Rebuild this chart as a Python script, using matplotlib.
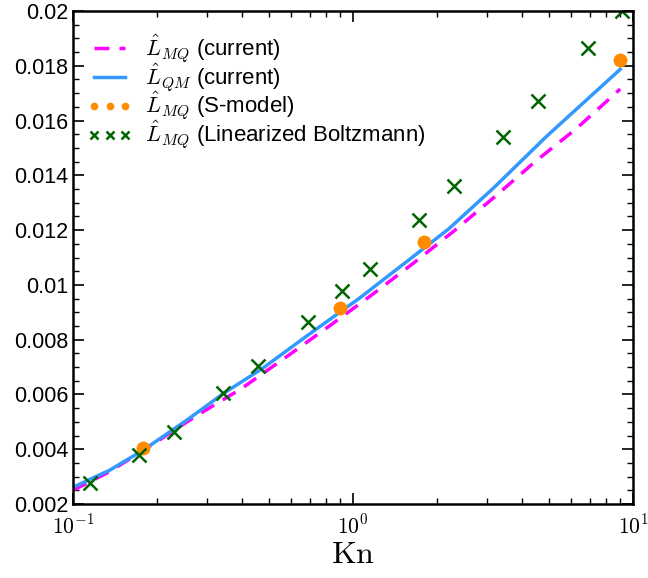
import numpy as np
import matplotlib
matplotlib.use('Agg')
import matplotlib.pyplot as plt
from matplotlib.ticker import FuncFormatter, MultipleLocator, LogLocator, NullFormatter

plt.rcParams['font.family'] = ['Liberation Sans', 'DejaVu Sans']
plt.rcParams['mathtext.fontset'] = 'cm'

# L_MQ current (dashed magenta)
kn_mq = [0.1, 0.1345, 0.1935, 0.273, 0.4004, 0.5797, 0.816, 1.166, 1.642, 2.314,
         3.21, 4.47, 6.30, 9.0]
l_mq = [0.00250, 0.00317, 0.00419, 0.00519, 0.00622, 0.00738, 0.00847, 0.00963,
        0.01079, 0.0120, 0.01322, 0.0145, 0.01572, 0.01715]

# L_QM current (solid blue)
kn_qm = [0.1, 0.1355, 0.1783, 0.258, 0.344, 0.478, 0.702, 1.05, 1.555, 2.2,
         3.17, 4.92, 9.0]
l_qm = [0.00261, 0.00324, 0.00397, 0.00510, 0.00603, 0.00697, 0.00822, 0.00950,
        0.01085, 0.01205, 0.01353, 0.01543, 0.01787]

# S-model
kn_s = [0.178, 0.899, 1.798, 9.0]
l_s = [0.00406, 0.00915, 0.01158, 0.01821]

# Linearized Boltzmann
kn_lb = [0.1146, 0.172, 0.229, 0.344, 0.458, 0.688, 0.917, 1.146, 1.72, 2.29,
         3.44, 4.58, 6.88, 9.17]
l_lb = [0.00277, 0.00379, 0.00464, 0.00605, 0.00704, 0.00864, 0.00978, 0.01058,
        0.01237, 0.01361, 0.0154, 0.01671, 0.01865, 0.0200]

fig = plt.figure(figsize=(6.48, 5.78), dpi=100)
ax = fig.add_axes([73 / 648, 1 - 504 / 578, 560 / 648, 493 / 578])

lw = 2.5
ax.plot(kn_mq, l_mq, color='#ff00ff', lw=lw, dashes=(4.3, 2.9),
        label=r'$\hat{L}_{MQ}$ (current)')
ax.plot(kn_qm, l_qm, color='#3399ff', lw=lw,
        label=r'$\hat{L}_{QM}$ (current)')
ax.plot(kn_s, l_s, 'o', color='#ff8c00', ms=10, mec='none',
        label=r'$\hat{L}_{MQ}$ (S-model)')
ax.plot(kn_lb, l_lb, 'x', color='#006400', ms=10, mew=1.8,
        label=r'$\hat{L}_{MQ}$ (Linearized Boltzmann)')

ax.set_xscale('log')
ax.set_xlim(0.1, 10)
ax.set_ylim(0.002, 0.02)

ax.yaxis.set_major_locator(MultipleLocator(0.002))
ax.yaxis.set_minor_locator(MultipleLocator(0.0005))
ax.yaxis.set_major_formatter(FuncFormatter(lambda v, p: f'{v:g}'))
ax.xaxis.set_major_locator(LogLocator(base=10))
ax.xaxis.set_minor_locator(LogLocator(base=10, subs=np.arange(2, 10)))
ax.xaxis.set_minor_formatter(NullFormatter())
ax.xaxis.set_major_formatter(FuncFormatter(lambda v, p: r'$10^{%d}$' % round(np.log10(v))))

ax.tick_params(which='both', direction='in', top=True, right=True, labelsize=15.5)
ax.tick_params(which='major', length=8, width=1.2)
ax.tick_params(which='minor', length=4.5, width=1.0)
ax.tick_params(axis='x', which='major', pad=8)
for s in ax.spines.values():
    s.set_linewidth(1.8)

ax.set_xlabel(r'$\mathrm{Kn}$', fontsize=23, labelpad=1)

ax.legend(loc='upper left', bbox_to_anchor=(-0.01, 0.997), frameon=False,
          fontsize=16, numpoints=3, markerscale=0.55, handlelength=2.0,
          handletextpad=0.6, labelspacing=-0.15, borderpad=0.4)

fig.savefig('out.png', dpi=100)
